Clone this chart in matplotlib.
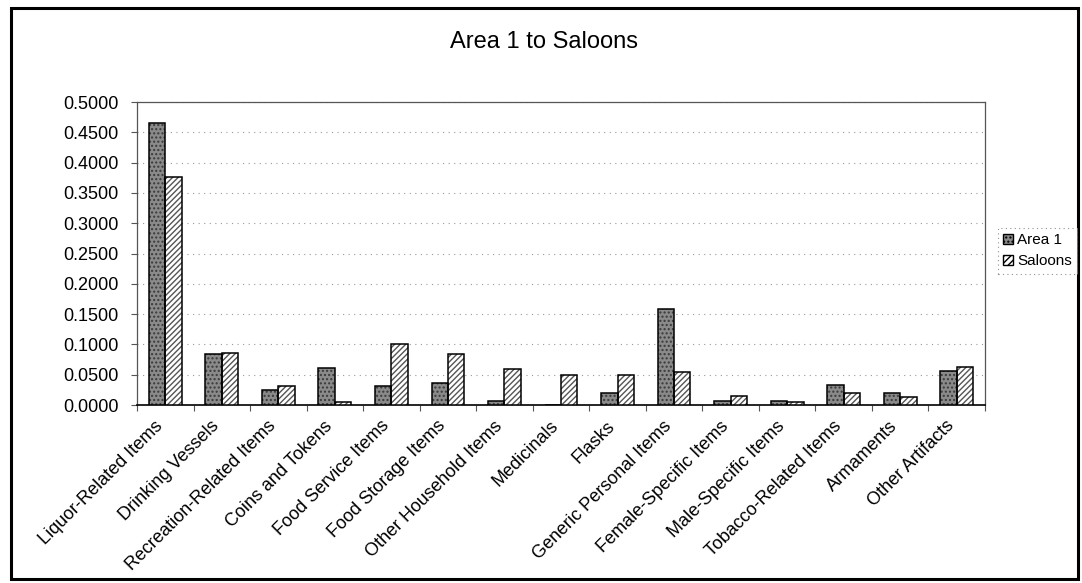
import matplotlib
matplotlib.use("Agg")
import matplotlib.pyplot as plt
from matplotlib.patches import Rectangle, Patch
from matplotlib.ticker import MultipleLocator, FormatStrFormatter
from matplotlib.transforms import ScaledTranslation
import numpy as np

plt.rcParams['font.family'] = ['Liberation Sans', 'DejaVu Sans']

categories = ["Liquor-Related Items", "Drinking Vessels", "Recreation-Related Items",
              "Coins and Tokens", "Food Service Items", "Food Storage Items",
              "Other Household Items", "Medicinals", "Flasks", "Generic Personal Items",
              "Female-Specific Items", "Male-Specific Items", "Tobacco-Related Items",
              "Armaments", "Other Artifacts"]
area1 = [0.4650, 0.0842, 0.0248, 0.0616, 0.0314, 0.0369, 0.0060, 0.0000, 0.0198,
         0.1590, 0.0060, 0.0066, 0.0324, 0.0204, 0.0560]
saloons = [0.3757, 0.0863, 0.0314, 0.0050, 0.1007, 0.0842, 0.0600, 0.0490, 0.0490,
           0.0545, 0.0143, 0.0044, 0.0193, 0.0127, 0.0627]
series_names = ["Area 1", "Saloons"]
title = "Area 1 to Saloons"

W, H = 1082, 583
fig = plt.figure(figsize=(W / 100, H / 100), dpi=100)
fig.patch.set_facecolor('white')

# outer frame
fig.add_artist(Rectangle((11 / W, 1 - 579 / H), (1078 - 11) / W, (579 - 8) / H,
                         transform=fig.transFigure, fill=False, edgecolor='black', lw=2.2))

ax = fig.add_axes([137 / W, 1 - 405 / H, (985 - 137) / W, (405 - 102) / H])
x = np.arange(len(categories))
bw = 0.29

# Area 1: stippled gray
ax.bar(x - bw / 2, area1, bw, color='#8a8a8a', edgecolor='#3a3a3a', hatch='....', lw=0, zorder=3)
ax.bar(x - bw / 2, area1, bw, fill=False, edgecolor='black', lw=1.1, zorder=4)
# Saloons: diagonal hatch
ax.bar(x + bw / 2, saloons, bw, color='white', edgecolor='#555555', hatch='//////', lw=0, zorder=3)
ax.bar(x + bw / 2, saloons, bw, fill=False, edgecolor='black', lw=1.1, zorder=4)

ax.set_xlim(-0.5, len(categories) - 0.5)
ax.set_ylim(0, 0.5)
ax.yaxis.set_major_locator(MultipleLocator(0.05))
ax.yaxis.set_major_formatter(FormatStrFormatter('%.4f'))
ax.grid(axis='y', color='#9a9a9a', linestyle=(0, (1, 4)), lw=0.8, zorder=0)
ax.set_axisbelow(True)

for s in ax.spines.values():
    s.set_color('#555555')
    s.set_linewidth(0.9)
ax.spines['bottom'].set_color('black')
ax.spines['bottom'].set_linewidth(1.2)

ax.tick_params(axis='y', labelsize=13, length=4, width=0.8, color='#555555', pad=9)
ax.set_xticks(x)
ax.set_xticklabels(categories, rotation=45, ha='right', rotation_mode='anchor', fontsize=13)
ax.tick_params(axis='x', length=0, pad=9)
ax.set_xticks(np.arange(-0.5, len(categories), 1), minor=True)
ax.tick_params(axis='x', which='minor', length=4, width=0.8, color='#555555')
offset = ScaledTranslation(-11 / 100, 0, fig.dpi_scale_trans)
for lbl in ax.get_xticklabels():
    lbl.set_transform(lbl.get_transform() + offset)

fig.text(544 / W, 1 - 42 / H, title, ha='center', va='center', fontsize=17)

handles = [Patch(facecolor='#8a8a8a', edgecolor='black', hatch='....', label=series_names[0]),
           Patch(facecolor='white', edgecolor='black', hatch='/////', label=series_names[1])]
leg = fig.legend(handles=handles, loc='upper left',
                 bbox_to_anchor=(998 / W, 1 - 228 / H), fontsize=11,
                 handlelength=0.6, handleheight=0.6, handletextpad=0.3,
                 borderpad=0.35, labelspacing=0.45, fancybox=False, borderaxespad=0)
leg.get_frame().set_edgecolor('#777777')
leg.get_frame().set_linestyle((0, (1, 3)))
leg.get_frame().set_linewidth(0.8)

fig.savefig('out.png', dpi=100)
